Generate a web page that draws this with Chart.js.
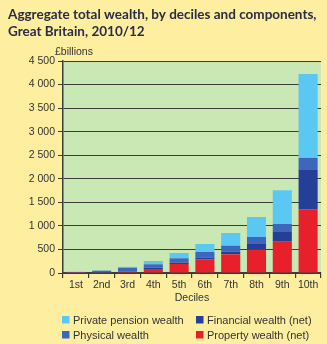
<!DOCTYPE html>
<html>
<head>
<meta charset="utf-8">
<script src="https://cdn.jsdelivr.net/npm/chart.js@4"></script>
<style>
  html, body { margin: 0; padding: 0; background: #fdeea0; }
  #wrap { width: 327px; height: 344px; position: relative; }
</style>
</head>
<body>
<div id="wrap"><canvas id="grafico" width="327" height="344"></canvas></div>
<script>
const deciles = ['1st', '2nd', '3rd', '4th', '5th', '6th', '7th', '8th', '9th', '10th'];
// £ billions per component, bottom of the stack first
const property = [3, 8, 20, 85, 191, 291, 397, 495, 665, 1352];
const financial = [2, 5, 10, 28, 28, 34, 55, 135, 205, 835];
const physical = [17, 35, 80, 72, 93, 121, 128, 134, 170, 255];
const pension = [3, 7, 20, 70, 113, 170, 269, 425, 716, 1783];
const yTicks = [0, 500, 1000, 1500, 2000, 2500, 3000, 3500, 4000, 4500];

const titleLines = ['Aggregate total wealth, by deciles and components,', 'Great Britain, 2010/12'];

const cores = {
    pension: '#5bc8f3',
    financial: '#253f98',
    physical: '#3d67bd',
    property: '#e8202b'
};

const textColor = '#333333';
const gridColor = '#3c3c3c';

// green plot area plus title, unit label and legend
const extras = {
    id: 'extras',
    beforeDraw(chart) {
        const c = chart.ctx;
        const a = chart.chartArea;
        c.save();
        c.fillStyle = '#fdeea0';
        c.fillRect(0, 0, chart.width, chart.height);
        c.fillStyle = '#c9e8b4';
        c.fillRect(a.left, a.top, a.right - a.left, a.bottom - a.top);
        c.restore();
    },
    afterDraw(chart) {
        const c = chart.ctx;
        c.save();
        c.fillStyle = '#2c2c44';
        c.textBaseline = 'middle';
        c.textAlign = 'left';
        // shrink the title font until the long line fits the width
        let size = 14;
        c.font = 'bold ' + size + 'px Lato';
        while (c.measureText(titleLines[0]).width > 314 && size > 9) {
            size -= 0.25;
            c.font = 'bold ' + size + 'px Lato';
        }
        c.fillText(titleLines[0], 8, 15);
        c.fillText(titleLines[1], 8, 32);

        c.fillStyle = textColor;
        c.font = '10.5px "Liberation Sans"';
        c.fillText('£billions', 55, 52);

        const items = [
            ['Private pension wealth', cores.pension, 62, 320],
            ['Financial wealth (net)', cores.financial, 196, 320],
            ['Physical wealth', cores.physical, 62, 335],
            ['Property wealth (net)', cores.property, 196, 335]
        ];
        c.font = '11px "Liberation Sans"';
        items.forEach(([txt, col, x, y]) => {
            c.fillStyle = col;
            c.fillRect(x, y - 4, 7.5, 7.5);
            c.fillStyle = textColor;
            c.fillText(txt, x + 11, y + 0.5);
        });
        c.restore();
    }
};

const ctx = document.getElementById('grafico');

new Chart(ctx, {
    type: 'bar',
    data: {
        labels: deciles,
        datasets: [
            { label: 'Property wealth (net)', data: property, backgroundColor: cores.property },
            { label: 'Financial wealth (net)', data: financial, backgroundColor: cores.financial },
            { label: 'Physical wealth', data: physical, backgroundColor: cores.physical },
            { label: 'Private pension wealth', data: pension, backgroundColor: cores.pension }
        ]
    },
    options: {
        responsive: false,
        animation: false,
        layout: { padding: { top: 61, right: 6, left: 0, bottom: 40 } },
        datasets: { bar: { categoryPercentage: 1, barPercentage: 0.74, borderWidth: 0 } },
        plugins: {
            legend: { display: false },
            title: { display: false },
            tooltip: { enabled: false }
        },
        scales: {
            x: {
                stacked: true,
                grid: {
                    display: true,
                    drawOnChartArea: false,
                    offset: true,
                    color: gridColor,
                    tickLength: 5,
                    lineWidth: 1.2
                },
                border: { display: true, color: gridColor, width: 1.5 },
                ticks: {
                    color: textColor,
                    font: { family: 'Liberation Sans', size: 10.5 },
                    padding: 1,
                    maxRotation: 0,
                    autoSkip: false
                },
                title: {
                    display: true,
                    text: 'Deciles',
                    color: textColor,
                    font: { family: 'Liberation Sans', size: 10.5 },
                    padding: { top: 1, bottom: 0 }
                },
                afterFit(scale) { scale.height = 31; }
            },
            y: {
                stacked: true,
                min: 0,
                max: 4500,
                afterBuildTicks(scale) { scale.ticks = yTicks.map(v => ({ value: v })); },
                grid: {
                    color: gridColor,
                    tickLength: 5,
                    lineWidth: 1
                },
                border: { display: true, color: gridColor, width: 1.5 },
                ticks: {
                    color: textColor,
                    font: { family: 'Liberation Sans', size: 10.5 },
                    padding: 3,
                    callback: v => String(v).replace(/\B(?=(\d{3})+(?!\d))/g, ' ')
                },
                afterFit(scale) { scale.width = 63; }
            }
        }
    },
    plugins: [extras]
});
</script>
</body>
</html>
